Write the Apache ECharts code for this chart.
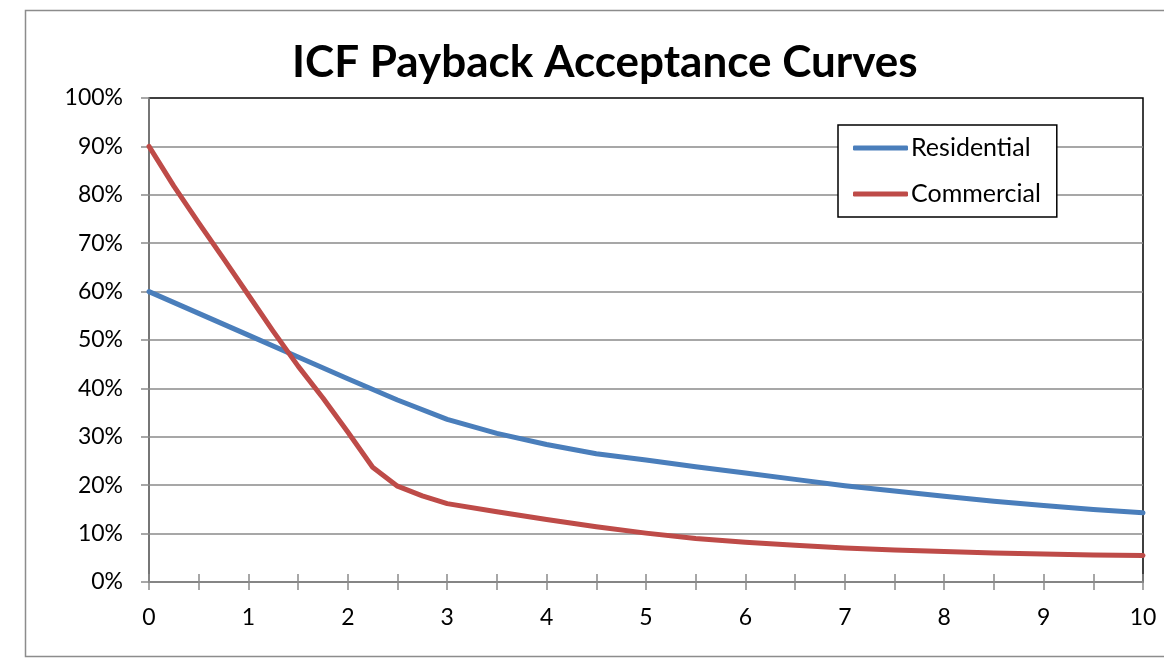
<!DOCTYPE html>
<html>
<head>
<meta charset="utf-8">
<script src="https://cdn.jsdelivr.net/npm/echarts@6/dist/echarts.min.js"></script>
<style>
  html, body { margin: 0; padding: 0; background: #fff; }
  #chart { width: 1164px; height: 659px; }
</style>
</head>
<body>
<div id="chart"></div>
<script>
// ---- data ----
const chartTitle = 'ICF Payback Acceptance Curves';
const seriesNames = ['Residential', 'Commercial'];
const residentialX = [0, 0.5, 1, 1.5, 2, 2.5, 3, 3.5, 4, 4.5, 5, 5.5, 6, 6.5, 7, 7.5, 8, 8.5, 9, 9.5, 10];
const residentialY = [0.60, 0.555, 0.51, 0.465, 0.42, 0.376, 0.336, 0.307, 0.284, 0.265, 0.252, 0.238, 0.225, 0.212, 0.199, 0.188, 0.177, 0.167, 0.158, 0.150, 0.143];
const commercialX = [0, 0.25, 0.5, 0.75, 1, 1.25, 1.5, 1.75, 2, 2.25, 2.5, 2.75, 3, 3.5, 4, 4.5, 5, 5.5, 6, 6.5, 7, 7.5, 8, 8.5, 9, 9.5, 10];
const commercialY = [0.90, 0.818, 0.742, 0.668, 0.593, 0.518, 0.446, 0.38, 0.31, 0.237, 0.198, 0.178, 0.162, 0.145, 0.129, 0.114, 0.101, 0.090, 0.082, 0.076, 0.070, 0.066, 0.063, 0.060, 0.058, 0.056, 0.055];
const xTickValues = [0, 1, 2, 3, 4, 5, 6, 7, 8, 9, 10];
const yTickValues = [0, 0.1, 0.2, 0.3, 0.4, 0.5, 0.6, 0.7, 0.8, 0.9, 1.0];

// ---- build ----
const pairs = (xs, ys) => xs.map((x, i) => [x, ys[i]]);
const FONT = 'Lato';
const gridGray = '#8a8a8a';

const chart = echarts.init(document.getElementById('chart'), null, { renderer: 'canvas' });
chart.setOption({
  animation: false,
  backgroundColor: '#fff',
  textStyle: { fontFamily: FONT },
  graphic: [{
    type: 'rect', z: -10, silent: true,
    shape: { x: 25.5, y: 10.5, width: 1160, height: 646 },
    style: { fill: '#fff', stroke: '#8c8c8c', lineWidth: 1.5 }
  }],
  title: {
    text: chartTitle,
    left: 292, top: 41,
    padding: 0,
    textStyle: { fontFamily: FONT, fontWeight: 'bold', fontSize: 44, color: '#000' }
  },
  legend: {
    orient: 'vertical',
    left: 838, top: 125,
    padding: [10, 16, 10, 15],
    icon: 'roundRect',
    itemWidth: 55, itemHeight: 5, itemGap: 20,
    backgroundColor: '#fff',
    borderColor: '#000', borderWidth: 1.5, borderRadius: 0,
    textStyle: { fontFamily: FONT, fontSize: 25, lineHeight: 26, color: '#000', padding: [0, 0, 0, -2] },
    data: seriesNames
  },
  grid: {
    left: 149, top: 98, right: 21, bottom: 77,
    show: true, borderColor: '#000', borderWidth: 1.5, backgroundColor: 'transparent'
  },
  xAxis: [{
    type: 'value', min: 0, max: 10, interval: 0.5, position: 'bottom',
    axisLine: { show: true, lineStyle: { color: gridGray, width: 1.5 } },
    axisTick: { show: true, inside: false, length: 8, lineStyle: { color: gridGray, width: 1.5 } },
    splitLine: { show: false },
    axisLabel: {
      margin: 24, fontFamily: FONT, fontSize: 23, color: '#000',
      formatter: v => xTickValues.indexOf(v) >= 0 ? String(v) : ''
    }
  }, {
    type: 'value', min: 0, max: 10, interval: 0.5, position: 'bottom', offset: 0,
    axisLine: { show: false },
    axisTick: { show: true, inside: true, length: 8, lineStyle: { color: gridGray, width: 1.5 } },
    splitLine: { show: false },
    axisLabel: { show: false }
  }],
  yAxis: {
    type: 'value', min: 0, max: 1, interval: 0.1,
    axisLine: { show: true, lineStyle: { color: gridGray, width: 1.5 } },
    axisTick: { show: true, inside: false, length: 8, lineStyle: { color: gridGray, width: 1.5 } },
    splitLine: { show: true, showMaxLine: false, lineStyle: { color: gridGray, width: 1.5 } },
    axisLabel: {
      margin: 26, fontFamily: FONT, fontSize: 23, color: '#000',
      formatter: v => Math.round(v * 100) + '%'
    }
  },
  series: [{
    name: seriesNames[0], type: 'line', xAxisIndex: 0,
    data: pairs(residentialX, residentialY),
    symbol: 'none', smooth: false,
    lineStyle: { color: '#4A7EBB', width: 5, cap: 'round', join: 'round' },
    itemStyle: { color: '#4A7EBB' }
  }, {
    name: seriesNames[1], type: 'line', xAxisIndex: 0,
    data: pairs(commercialX, commercialY),
    symbol: 'none', smooth: false,
    lineStyle: { color: '#BE4B48', width: 5, cap: 'round', join: 'round' },
    itemStyle: { color: '#BE4B48' }
  }]
});
</script>
</body>
</html>
